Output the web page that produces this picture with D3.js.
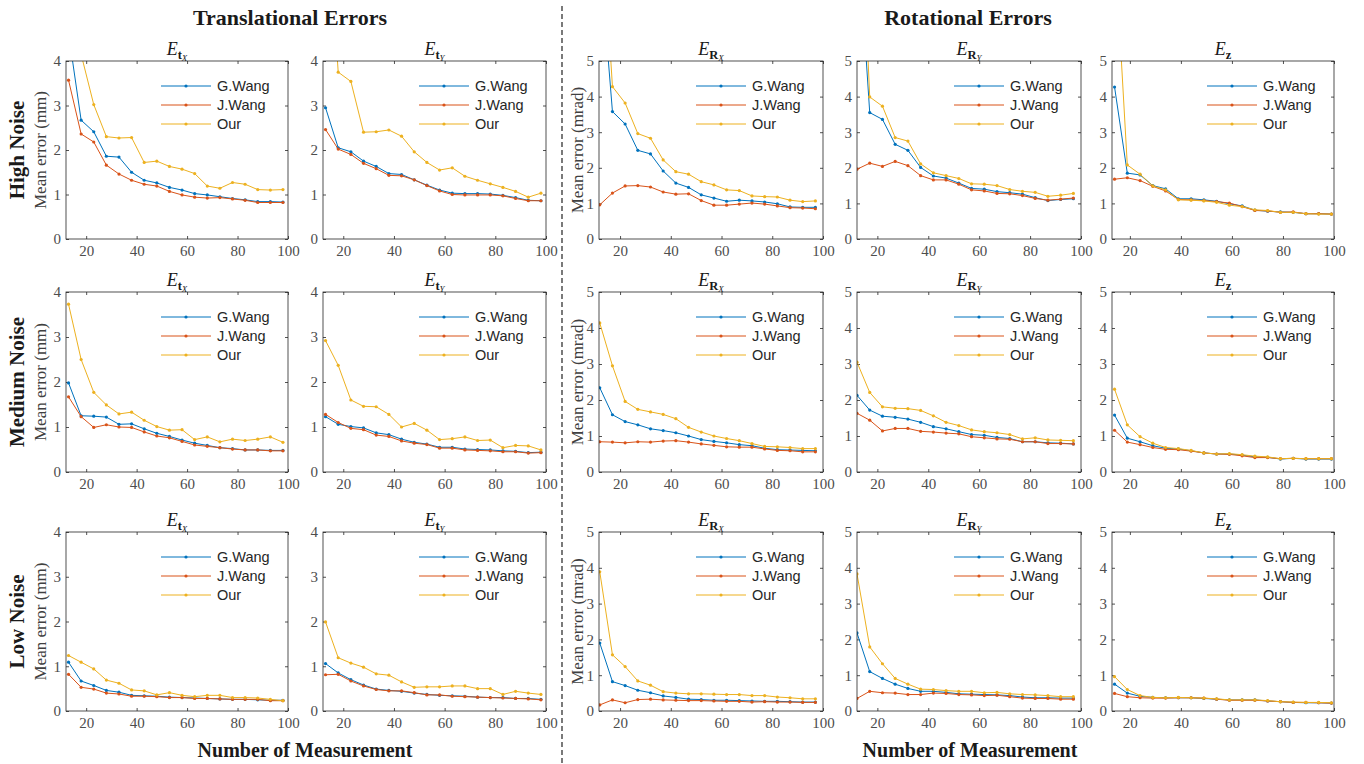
<!DOCTYPE html>
<html>
<head>
<meta charset="utf-8">
<script src="https://cdn.jsdelivr.net/npm/d3@7"></script>
<style>
  body { margin: 0; background: #fff; }
  text { font-family: "Liberation Serif", "Times New Roman", serif; }
</style>
</head>
<body>
<svg id="fig" width="1364" height="764"></svg>
<script>
// number of measurements (x values) per column group
const nTrans = [13,18,23,28,33,38,43,48,53,58,63,68,73,78,83,88,93,98];
const nRot   = [12,17,22,27,32,37,42,47,52,57,62,67,72,77,82,87,92,97];
const nZ     = [14,19,24,29,34,39,44,49,54,59,64,69,74,79,84,89,94,99];

const methods = ["G.Wang", "J.Wang", "Our"];
const colors = ["#0072BD", "#D95319", "#EDB120"];
const noiseLevels = ["High Noise", "Medium Noise", "Low Noise"];
const xTicks = [20, 40, 60, 80, 100];
const yTicksT = [0, 1, 2, 3, 4];
const yTicksR = [0, 1, 2, 3, 4, 5];

// ---- High noise ----
const gHiTx = [4.63,2.67,2.41,1.86,1.84,1.50,1.32,1.26,1.16,1.10,1.02,0.99,0.95,0.91,0.88,0.84,0.84,0.83];
const jHiTx = [3.57,2.36,2.18,1.66,1.46,1.32,1.23,1.19,1.07,0.99,0.94,0.92,0.93,0.90,0.87,0.82,0.82,0.82];
const oHiTx = [5.5,4.15,3.02,2.30,2.27,2.28,1.72,1.75,1.63,1.57,1.47,1.19,1.14,1.27,1.23,1.11,1.10,1.11];
const gHiTy = [2.95,2.05,1.96,1.75,1.63,1.47,1.45,1.33,1.21,1.10,1.03,1.02,1.02,1.01,0.98,0.93,0.87,0.86];
const jHiTy = [2.46,2.02,1.90,1.70,1.58,1.43,1.42,1.33,1.20,1.08,1.00,0.99,0.99,0.99,0.97,0.91,0.86,0.86];
const oHiTy = [8.0,3.75,3.54,2.40,2.41,2.45,2.31,1.96,1.72,1.55,1.60,1.41,1.32,1.24,1.16,1.07,0.94,1.03];
const gHiRx = [8.0,3.58,3.23,2.49,2.39,1.91,1.57,1.45,1.24,1.15,1.06,1.09,1.07,1.04,0.99,0.90,0.89,0.89];
const jHiRx = [0.96,1.29,1.49,1.50,1.46,1.32,1.26,1.27,1.08,0.95,0.95,0.98,1.01,0.98,0.93,0.88,0.87,0.85];
const oHiRx = [10.0,4.28,3.82,2.96,2.83,2.22,1.89,1.82,1.61,1.52,1.38,1.36,1.21,1.19,1.18,1.09,1.05,1.07];
const gHiRy = [9.0,3.55,3.36,2.66,2.49,2.01,1.77,1.71,1.57,1.42,1.40,1.33,1.30,1.26,1.16,1.08,1.11,1.13];
const jHiRy = [1.96,2.13,2.04,2.18,2.06,1.78,1.66,1.66,1.54,1.38,1.35,1.28,1.27,1.22,1.14,1.09,1.12,1.15];
const oHiRy = [12.0,3.99,3.73,2.85,2.75,2.11,1.86,1.78,1.70,1.55,1.54,1.50,1.39,1.34,1.31,1.20,1.23,1.28];
const gHiZ  = [4.27,1.85,1.80,1.50,1.41,1.13,1.13,1.10,1.06,0.99,0.93,0.81,0.78,0.76,0.75,0.71,0.71,0.70];
const jHiZ  = [1.68,1.72,1.64,1.48,1.35,1.11,1.10,1.08,1.05,1.01,0.91,0.80,0.79,0.75,0.76,0.71,0.71,0.70];
const oHiZ  = [8.4,2.08,1.82,1.49,1.38,1.10,1.09,1.07,1.03,0.95,0.91,0.82,0.80,0.75,0.75,0.71,0.70,0.70];

// ---- Medium noise ----
const gMdTx = [1.98,1.25,1.24,1.22,1.06,1.07,0.96,0.86,0.79,0.71,0.64,0.59,0.54,0.52,0.49,0.49,0.48,0.48];
const jMdTx = [1.67,1.23,0.99,1.05,1.00,0.99,0.89,0.80,0.76,0.68,0.60,0.57,0.54,0.51,0.49,0.49,0.47,0.47];
const oMdTx = [3.73,2.50,1.77,1.49,1.29,1.33,1.15,1.01,0.93,0.94,0.72,0.78,0.67,0.73,0.70,0.73,0.78,0.66];
const gMdTy = [1.23,1.06,1.01,0.98,0.87,0.83,0.73,0.66,0.62,0.55,0.55,0.51,0.50,0.49,0.47,0.46,0.43,0.44];
const jMdTy = [1.28,1.10,0.97,0.94,0.82,0.79,0.69,0.64,0.61,0.53,0.53,0.49,0.48,0.47,0.45,0.45,0.42,0.43];
const oMdTy = [2.92,2.37,1.60,1.46,1.45,1.28,1.00,1.08,0.93,0.72,0.74,0.78,0.70,0.71,0.54,0.59,0.58,0.49];
const gMdRx = [2.34,1.59,1.40,1.31,1.20,1.15,1.09,1.00,0.90,0.85,0.81,0.76,0.73,0.66,0.62,0.61,0.60,0.59];
const jMdRx = [0.84,0.83,0.81,0.84,0.83,0.86,0.87,0.83,0.78,0.74,0.70,0.69,0.69,0.64,0.60,0.59,0.56,0.56];
const oMdRx = [4.14,2.95,1.96,1.74,1.67,1.60,1.48,1.24,1.11,1.00,0.93,0.87,0.79,0.71,0.70,0.68,0.65,0.65];
const gMdRy = [2.13,1.72,1.55,1.52,1.47,1.38,1.26,1.20,1.12,1.04,1.02,0.96,0.93,0.84,0.84,0.81,0.80,0.78];
const jMdRy = [1.63,1.44,1.14,1.21,1.21,1.13,1.11,1.08,1.06,0.98,0.95,0.92,0.91,0.84,0.84,0.79,0.79,0.78];
const oMdRy = [3.05,2.21,1.81,1.77,1.76,1.71,1.56,1.38,1.29,1.17,1.12,1.09,1.04,0.92,0.95,0.89,0.88,0.87];
const gMdZ  = [1.58,0.94,0.84,0.73,0.66,0.64,0.59,0.53,0.50,0.50,0.47,0.42,0.41,0.36,0.38,0.36,0.36,0.36];
const jMdZ  = [1.16,0.83,0.76,0.68,0.63,0.62,0.58,0.53,0.50,0.49,0.45,0.40,0.40,0.37,0.38,0.37,0.37,0.37];
const oMdZ  = [2.30,1.31,0.98,0.80,0.68,0.65,0.60,0.53,0.50,0.51,0.48,0.44,0.42,0.37,0.38,0.37,0.37,0.37];

// ---- Low noise ----
const gLoTx = [1.09,0.67,0.57,0.46,0.42,0.35,0.34,0.33,0.31,0.30,0.29,0.28,0.27,0.26,0.26,0.25,0.24,0.24];
const jLoTx = [0.82,0.53,0.49,0.40,0.38,0.33,0.33,0.32,0.30,0.30,0.28,0.28,0.27,0.26,0.26,0.26,0.23,0.23];
const oLoTx = [1.24,1.09,0.94,0.69,0.62,0.47,0.45,0.36,0.41,0.35,0.32,0.35,0.35,0.30,0.30,0.29,0.26,0.23];
const gLoTy = [1.06,0.85,0.70,0.58,0.49,0.46,0.44,0.40,0.37,0.35,0.34,0.33,0.31,0.30,0.30,0.28,0.28,0.26];
const jLoTy = [0.81,0.82,0.67,0.56,0.48,0.45,0.45,0.41,0.36,0.36,0.33,0.32,0.31,0.30,0.29,0.28,0.27,0.25];
const oLoTy = [1.99,1.19,1.07,0.98,0.83,0.80,0.65,0.53,0.54,0.54,0.56,0.56,0.50,0.50,0.37,0.44,0.40,0.37];
const gLoRx = [1.90,0.82,0.71,0.58,0.51,0.42,0.38,0.33,0.32,0.30,0.30,0.29,0.28,0.27,0.27,0.26,0.25,0.25];
const jLoRx = [0.17,0.31,0.23,0.32,0.33,0.31,0.30,0.29,0.29,0.28,0.27,0.27,0.25,0.26,0.25,0.25,0.24,0.24];
const oLoRx = [3.89,1.57,1.24,0.84,0.72,0.54,0.50,0.48,0.48,0.47,0.46,0.46,0.43,0.43,0.39,0.37,0.34,0.34];
const gLoRy = [2.18,1.10,0.91,0.75,0.63,0.55,0.55,0.52,0.48,0.47,0.46,0.45,0.43,0.39,0.37,0.37,0.36,0.36];
const jLoRy = [0.35,0.55,0.51,0.50,0.46,0.46,0.50,0.49,0.46,0.45,0.43,0.44,0.40,0.36,0.35,0.35,0.33,0.33];
const oLoRy = [3.83,1.79,1.32,0.91,0.75,0.61,0.60,0.57,0.55,0.55,0.51,0.52,0.48,0.46,0.45,0.43,0.40,0.40];
const gLoZ  = [0.75,0.50,0.41,0.38,0.37,0.37,0.37,0.35,0.33,0.31,0.31,0.31,0.28,0.26,0.24,0.23,0.23,0.22];
const jLoZ  = [0.49,0.40,0.37,0.36,0.36,0.37,0.37,0.36,0.33,0.30,0.30,0.30,0.28,0.26,0.24,0.24,0.23,0.22];
const oLoZ  = [0.96,0.60,0.43,0.38,0.37,0.38,0.37,0.36,0.34,0.31,0.31,0.31,0.29,0.26,0.25,0.24,0.24,0.23];

// layout of the grid (plot boxes)
const colBox = [[66,288],[323,546],[599,823],[857,1081],[1112,1334]];
const rowBox = [[61,239],[292,472],[532,711]];

// column settings: title pieces, x values, x domain start, y max
const colDefs = [
  { sub: "t", subsub: "X", xs: nTrans, x0: 12, ymax: 4, yticks: yTicksT, unit: "(mm)" },
  { sub: "t", subsub: "Y", xs: nTrans, x0: 12, ymax: 4, yticks: yTicksT, unit: null },
  { sub: "R", subsub: "X", xs: nRot, x0: 11.7, ymax: 5, yticks: yTicksR, unit: "(mrad)" },
  { sub: "R", subsub: "Y", xs: nRot, x0: 12, ymax: 5, yticks: yTicksR, unit: null },
  { sub: "z", subsub: "", xs: nZ, x0: 13, ymax: 5, yticks: yTicksR, unit: null }
];
const rowData = [
  [[gHiTx,jHiTx,oHiTx],[gHiTy,jHiTy,oHiTy],[gHiRx,jHiRx,oHiRx],[gHiRy,jHiRy,oHiRy],[gHiZ,jHiZ,oHiZ]],
  [[gMdTx,jMdTx,oMdTx],[gMdTy,jMdTy,oMdTy],[gMdRx,jMdRx,oMdRx],[gMdRy,jMdRy,oMdRy],[gMdZ,jMdZ,oMdZ]],
  [[gLoTx,jLoTx,oLoTx],[gLoTy,jLoTy,oLoTy],[gLoRx,jLoRx,oLoRx],[gLoRy,jLoRy,oLoRy],[gLoZ,jLoZ,oLoZ]]
];

const svg = d3.select("#fig");
const axisColor = "#262626";
const tickColor = "#4d4d4d";
const fmt = d3.format("d");

rowData.forEach((row, r) => {
  row.forEach((triple, c) => {
    const def = colDefs[c];
    const [left, right] = colBox[c];
    const [top, bottom] = rowBox[r];
    const w = right - left, h = bottom - top;
    const x = d3.scaleLinear().domain([def.x0, 100]).range([0, w]);
    const y = d3.scaleLinear().domain([0, def.ymax]).range([h, 0]);

    const g = svg.append("g").attr("transform", `translate(${left},${top})`);
    const clipId = `clip-${r}-${c}`;
    g.append("clipPath").attr("id", clipId)
      .append("rect").attr("width", w).attr("height", h);

    // axes (MATLAB style, ticks inside, mirrored on top/right)
    const styleAxis = sel => {
      sel.select(".domain").remove();
      sel.selectAll("line").attr("stroke", axisColor).attr("stroke-width", 0.8);
      sel.selectAll("text").attr("fill", tickColor)
        .style("font-family", "'Liberation Serif', serif").style("font-size", "15px");
    };
    g.append("g").attr("transform", `translate(0,${h})`)
      .call(d3.axisBottom(x).tickValues(xTicks).tickFormat(fmt).tickSizeInner(-3).tickSizeOuter(0).tickPadding(6))
      .call(styleAxis);
    g.append("g")
      .call(d3.axisTop(x).tickValues(xTicks).tickSizeInner(-3).tickSizeOuter(0).tickFormat(""))
      .call(styleAxis);
    g.append("g")
      .call(d3.axisLeft(y).tickValues(def.yticks).tickFormat(fmt).tickSizeInner(-3).tickSizeOuter(0).tickPadding(5))
      .call(styleAxis);
    g.append("g").attr("transform", `translate(${w},0)`)
      .call(d3.axisRight(y).tickValues(def.yticks).tickSizeInner(-3).tickSizeOuter(0).tickFormat(""))
      .call(styleAxis);

    // data lines and dots
    const plot = g.append("g").attr("clip-path", `url(#${clipId})`);
    triple.forEach((vals, k) => {
      const pts = vals.map((v, i) => [def.xs[i], v]);
      plot.append("path")
        .datum(pts)
        .attr("fill", "none")
        .attr("stroke", colors[k])
        .attr("stroke-width", 1)
        .attr("d", d3.line().x(d => x(d[0])).y(d => y(d[1])));
      plot.selectAll(null).data(pts).enter().append("circle")
        .attr("cx", d => x(d[0])).attr("cy", d => y(d[1]))
        .attr("r", 1.6).attr("fill", colors[k]);
    });

    // box
    g.append("rect").attr("width", w).attr("height", h)
      .attr("fill", "none").attr("stroke", axisColor).attr("stroke-width", 0.8);

    // legend
    methods.forEach((m, k) => {
      const ly = 25 + k * 19;
      g.append("line").attr("x1", w - 127).attr("x2", w - 77)
        .attr("y1", ly).attr("y2", ly)
        .attr("stroke", colors[k]).attr("stroke-width", 1);
      g.append("circle").attr("cx", w - 102).attr("cy", ly).attr("r", 1.6).attr("fill", colors[k]);
      g.append("text").attr("x", w - 71).attr("y", ly)
        .attr("dy", "0.36em")
        .style("font-family", "'Liberation Sans', Arial, sans-serif")
        .style("font-size", "14.5px").attr("fill", axisColor)
        .text(m);
    });

    // panel title E_{sub_{subsub}}
    const t = g.append("text").attr("x", w / 2).attr("y", -6)
      .attr("text-anchor", "middle").attr("fill", "#1a1a1a");
    t.append("tspan").style("font-style", "italic").style("font-size", "18px").text("E");
    t.append("tspan").attr("dy", 4).style("font-weight", "bold").style("font-size", "12.5px").text(def.sub);
    if (def.subsub) {
      t.append("tspan").attr("dy", 2).style("font-style", "italic").style("font-size", "9px").text(def.subsub);
    }

    // y labels
    if (def.unit) {
      const cy = top + h / 2;
      const lx = c === 0 ? 40 : 577;
      svg.append("text").attr("transform", `translate(${lx},${cy}) rotate(-90)`)
        .attr("text-anchor", "middle").attr("dy", "0.35em")
        .style("font-size", "17px").attr("fill", "#404040")
        .text("Mean error " + def.unit);
      if (c === 0) {
        svg.append("text").attr("transform", `translate(17,${cy}) rotate(-90)`)
          .attr("text-anchor", "middle").attr("dy", "0.35em")
          .style("font-size", "21px").style("font-weight", "bold").attr("fill", "#1a1a1a")
          .text(noiseLevels[r]);
      }
    }
  });
});

// group headers and x labels
const headers = [
  { text: "Translational Errors", x: 290, y: 25, size: 22 },
  { text: "Rotational Errors", x: 968, y: 25, size: 22 },
  { text: "Number of Measurement", x: 305, y: 757, size: 20 },
  { text: "Number of Measurement", x: 970, y: 757, size: 20 }
];
svg.selectAll(null).data(headers).enter().append("text")
  .attr("x", d => d.x).attr("y", d => d.y)
  .attr("text-anchor", "middle")
  .style("font-size", d => d.size + "px").style("font-weight", "bold").attr("fill", "#1a1a1a")
  .text(d => d.text);

// dashed divider
svg.append("line").attr("x1", 562).attr("x2", 562).attr("y1", 6).attr("y2", 764)
  .attr("stroke", "#222").attr("stroke-width", 1.2).attr("stroke-dasharray", "5,3");
</script>
</body>
</html>
